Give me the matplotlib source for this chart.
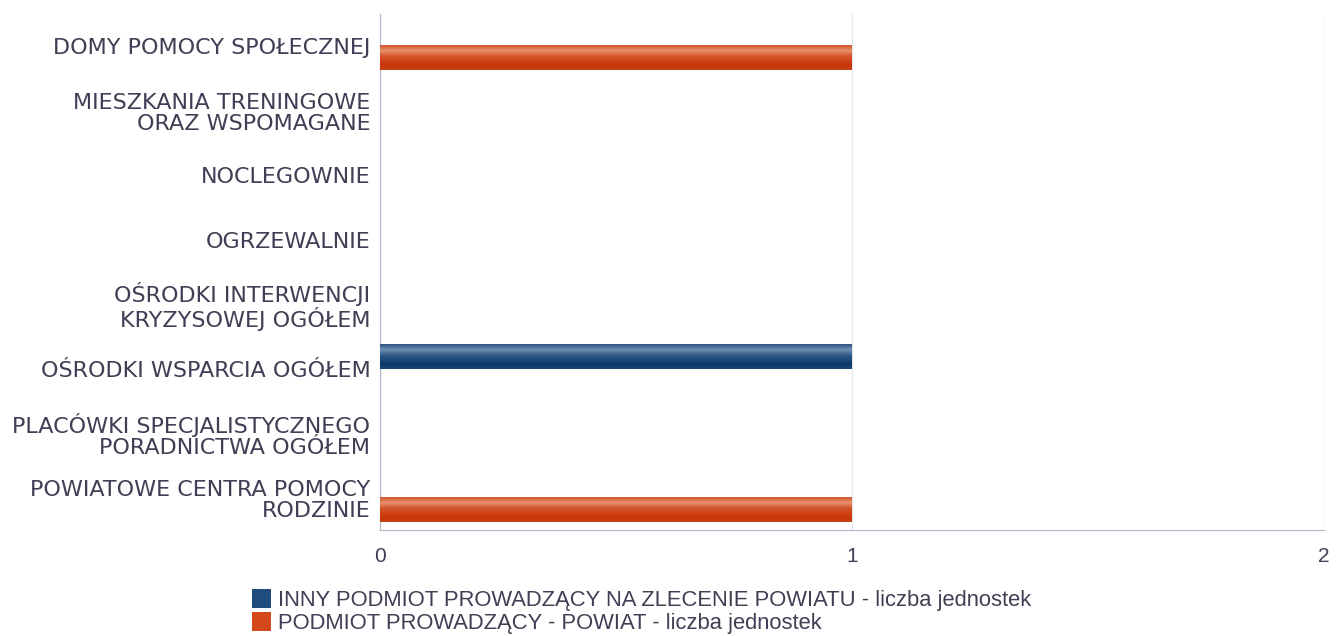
import numpy as np
import matplotlib
matplotlib.use("Agg")
import matplotlib.pyplot as plt
from matplotlib.colors import LinearSegmentedColormap
from matplotlib.patches import Rectangle

categories = [
    "DOMY POMOCY SPOŁECZNEJ",
    "MIESZKANIA TRENINGOWE\nORAZ WSPOMAGANE",
    "NOCLEGOWNIE",
    "OGRZEWALNIE",
    "OŚRODKI INTERWENCJI\nKRYZYSOWEJ OGÓŁEM",
    "OŚRODKI WSPARCIA OGÓŁEM",
    "PLACÓWKI SPECJALISTYCZNEGO\nPORADNICTWA OGÓŁEM",
    "POWIATOWE CENTRA POMOCY\nRODZINIE",
]
inny = [0, 0, 0, 0, 0, 1, 0, 0]
powiat = [1, 0, 0, 0, 0, 0, 0, 1]
series_names = [
    "INNY PODMIOT PROWADZĄCY NA ZLECENIE POWIATU - liczba jednostek",
    "PODMIOT PROWADZĄCY - POWIAT - liczba jednostek",
]

plt.rcParams['font.family'] = ['DejaVu Sans']
text_col = '#3f3f55'

blue_cm = LinearSegmentedColormap.from_list(
    "b", [(0.0, '#2a5580'), (0.22, '#6f8fb0'), (0.45, '#2f5a86'), (0.8, '#083a6c'), (1.0, '#1c446e')])
orange_cm = LinearSegmentedColormap.from_list(
    "o", [(0.0, '#d2542a'), (0.22, '#e6916e'), (0.45, '#d4532a'), (0.8, '#c93508'), (1.0, '#c64014')])

fig = plt.figure(figsize=(13.41, 6.36), dpi=100)
ax = fig.add_axes([380 / 1341, 1 - 530 / 636, (1324 - 380) / 1341, (530 - 14) / 636])

y = np.arange(len(categories))
h = 0.38
off = 0.18
bars_b = ax.barh(y - off, inny, height=h, color='#1c4a7a', linewidth=0)
bars_o = ax.barh(y + off, powiat, height=h, color='#cf4318', linewidth=0)

# glossy look: paint a vertical gradient over every drawn bar
grad = np.linspace(0, 1, 64).reshape(-1, 1)
for bars, cm in ((bars_b, blue_cm), (bars_o, orange_cm)):
    for b in bars:
        if b.get_width() <= 0:
            continue
        x0, y0 = b.get_x(), b.get_y()
        ax.imshow(grad, cmap=cm, aspect='auto', interpolation='bilinear',
                  extent=(x0, x0 + b.get_width(), y0 + b.get_height(), y0),
                  zorder=3)

ax.set_ylim(len(categories) - 0.5, -0.5)
ax.set_xlim(0, 2)
ax.set_xticks([0, 1, 2])
ax.set_yticks(y)
ax.set_yticklabels(categories, fontsize=16, color=text_col, linespacing=1.05)
ax.tick_params(axis='y', length=0, pad=7)
ax.tick_params(axis='x', length=0, pad=12)
for t in ax.get_xticklabels():
    t.set_fontfamily('Liberation Sans')
    t.set_fontsize(15)
    t.set_color(text_col)
ax.xaxis.grid(True, color='#e6e6ef', linewidth=1)
ax.set_axisbelow(True)
for s in ('top', 'right'):
    ax.spines[s].set_visible(False)
ax.spines['left'].set_color('#b4b4cc')
ax.spines['bottom'].set_color('#b4b4cc')

handles = [Rectangle((0, 0), 1, 1, facecolor='#1f4c7c'),
           Rectangle((0, 0), 1, 1, facecolor='#d4491c')]
leg = fig.legend(handles, series_names, loc='upper left', bbox_to_anchor=(252 / 1341, 1 - 589 / 636),
                 frameon=False, prop={'family': 'Liberation Sans', 'size': 15.8},
                 labelcolor=text_col, handlelength=0.85, handleheight=0.95,
                 handletextpad=0.35, labelspacing=0.05, borderpad=0, borderaxespad=0)

fig.savefig("out.png", dpi=100)
